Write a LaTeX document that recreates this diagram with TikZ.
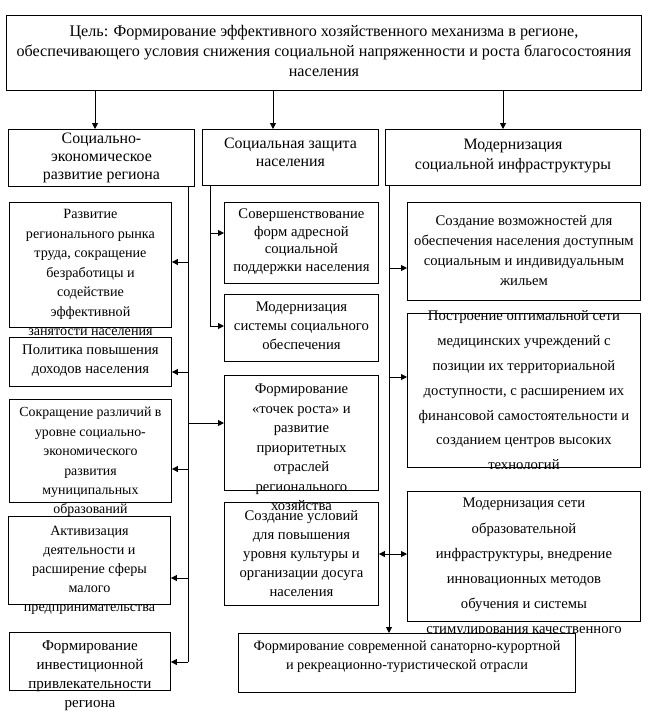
\documentclass[tikz,border=0pt]{standalone}
\usepackage{fontspec}
\setmainfont{Liberation Serif}
\usetikzlibrary{arrows.meta}
\newdimen\px \px=0.75pt
\tikzset{
  >={Triangle[length=4.5pt,width=4.5pt]},
  % box: width, height, baselineskip, first baseline (px), font size (pt)
  cell/.style n args={5}{draw,line width=0.7pt,inner sep=0pt,anchor=north west,
    execute at begin node={\begin{minipage}[c][#2\px][t]{#1\px}\centering
      \fontsize{#5pt}{#3\px}\selectfont\vspace*{\dimexpr#4\px-0.7\baselineskip\relax}\strut},
    execute at end node={\end{minipage}}},
  wire/.style={line width=0.7pt},
}
\begin{document}
\begin{tikzpicture}[x=0.75pt,y=-0.75pt]
  \useasboundingbox (0,0) rectangle (649,718);
  \node[cell={635}{75}{20}{21.5}{12.1}] (goal) at (6,15) {Цель: Формирование эффективного хозяйственного механизма в регионе,\\ обеспечивающего условия снижения социальной напряженности и роста благосостояния\\ населения};
  % directions
  \node[cell={186}{57}{18}{14.5}{11.9}] (A) at (8,129) {Социально-\\ экономическое\\ развитие региона};
  \node[cell={176}{56}{18}{19.5}{11.9}] (B) at (202,129) {Социальная защита\\ населения};
  \node[cell={255}{56}{20}{20.5}{11.9}] (C) at (385,129) {Модернизация\\ социальной инфраструктуры};
  % left column
  \node[cell={162}{125}{19.5}{16.5}{10.6}] (a1) at (9,202) {Развитие\\ регионального рынка\\ труда, сокращение\\ безработицы и\\ содействие\\ эффективной\\ занятости населения};
  \node[cell={162}{49}{19}{17.5}{11}] (a2) at (9,337) {Политика повышения\\ доходов населения};
  \node[cell={162}{103}{19.4}{17.5}{10.4}] (a3) at (9,399) {Сокращение различий в\\ уровне социально-\\ экономического\\ развития\\ муниципальных\\ образований};
  \node[cell={162}{88}{19}{19.5}{10.6}] (a4) at (8,516) {Активизация\\ деятельности и\\ расширение сферы\\ малого\\ предпринимательства};
  \node[cell={161}{58}{18.7}{18.5}{11.3}] (a5) at (9,632) {Формирование\\ инвестиционной\\ привлекательности\\ региона};
  % middle column
  \node[cell={154}{81}{17.5}{16.5}{11}] (b1) at (224,202) {Совершенствование\\ форм адресной\\ социальной\\ поддержки населения};
  \node[cell={154}{67}{19}{17.5}{11}] (b2) at (224,294) {Модернизация\\ системы социального\\ обеспечения};
  \node[cell={154}{115}{19.5}{18.5}{11}] (b3) at (224,375) {Формирование\\ «точек роста» и\\ развитие\\ приоритетных\\ отраслей\\ регионального\\ хозяйства};
  \node[cell={154}{103}{19}{18.5}{11}] (b4) at (224,502) {Создание условий\\ для повышения\\ уровня культуры и\\ организации досуга\\ населения};
  % right column
  \node[cell={233}{98}{20}{23.5}{11}] (c1) at (407,202) {Создание возможностей для\\ обеспечения населения доступным\\ социальным и индивидуальным\\ жильем};
  \node[cell={233}{154}{24.8}{7.5}{11}] (c2) at (407,313) {Построение оптимальной сети\\ медицинских учреждений с\\ позиции их территориальной\\ доступности, с расширением их\\ финансовой самостоятельности и\\ созданием центров высоких\\ технологий};
  \begin{scope}
    \clip (0,0) rectangle (649,632);
    \node[cell={233}{130}{25.2}{16.5}{11}] (c3) at (407,491) {Модернизация сети\\ образовательной\\ инфраструктуры, внедрение\\ инновационных методов\\ обучения и системы\\ стимулирования качественного};
  \end{scope}
  \node[cell={337}{59}{18.5}{17.5}{10.7},fill=white] (c4) at (238,633) {Формирование современной санаторно-курортной\\ и рекреационно-туристической отрасли};
  % connectors
  \coordinate (ta) at (188,662);
  \coordinate (tb) at (210,326);
  \coordinate (tc) at (389,633);
  \foreach \n/\x in {A/95,B/273,C/503}
    \draw[wire,->] (goal.south -| \x,0) -- (\n.north -| \x,0);
  \draw[wire] (A.south -| ta) -- (ta);
  \draw[wire] (B.south -| tb) -- (tb);
  \draw[wire,->] (C.south -| tc) -- (tc);
  \foreach \b/\y in {a1/262,a2/372,a3/469,a4/578,a5/662}
    \draw[wire,->] (ta |- 0,\y) -- (\b.east |- 0,\y);
  \draw[wire,->] (ta |- 0,423) -- (b3.west |- 0,423);
  \foreach \b/\y in {b1/233,b2/326}
    \draw[wire,->] (tb |- 0,\y) -- (\b.west |- 0,\y);
  \foreach \b/\y in {c1/268,c2/377,c3/554}
    \draw[wire,->] (tc |- 0,\y) -- (\b.west |- 0,\y);
  \draw[wire,->] (tc |- 0,554) -- (b4.east |- 0,554);
\end{tikzpicture}
\end{document}
